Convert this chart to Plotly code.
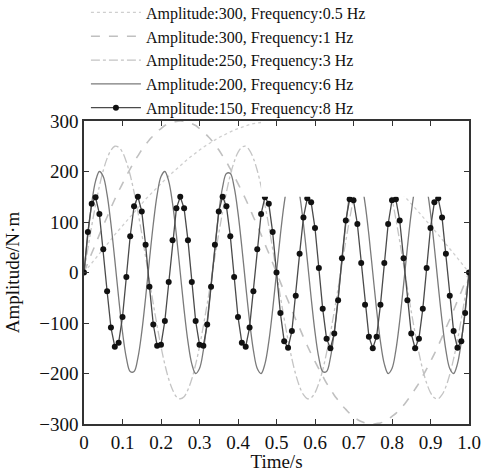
import plotly.graph_objects as go

# time samples (s)
time_s = [0.00, 0.01, 0.02, 0.03, 0.04, 0.05, 0.06, 0.07, 0.08, 0.09,
          0.10, 0.11, 0.12, 0.13, 0.14, 0.15, 0.16, 0.17, 0.18, 0.19,
          0.20, 0.21, 0.22, 0.23, 0.24, 0.25, 0.26, 0.27, 0.28, 0.29,
          0.30, 0.31, 0.32, 0.33, 0.34, 0.35, 0.36, 0.37, 0.38, 0.39,
          0.40, 0.41, 0.42, 0.43, 0.44, 0.45, 0.46, 0.47, 0.48, 0.49,
          0.50, 0.51, 0.52, 0.53, 0.54, 0.55, 0.56, 0.57, 0.58, 0.59,
          0.60, 0.61, 0.62, 0.63, 0.64, 0.65, 0.66, 0.67, 0.68, 0.69,
          0.70, 0.71, 0.72, 0.73, 0.74, 0.75, 0.76, 0.77, 0.78, 0.79,
          0.80, 0.81, 0.82, 0.83, 0.84, 0.85, 0.86, 0.87, 0.88, 0.89,
          0.90, 0.91, 0.92, 0.93, 0.94, 0.95, 0.96, 0.97, 0.98, 0.99, 1.00]

amp300_f05 = [0, 9, 19, 28, 38, 47, 56, 65, 75, 84,
              93, 102, 110, 119, 128, 136, 145, 153, 161, 169,
              176, 184, 191, 198, 205, 212, 219, 225, 231, 237,
              243, 248, 253, 258, 263, 267, 271, 275, 279, 282,
              285, 288, 291, 293, 295, 296, 298, 299, 299, 300,
              300, 300, 299, 299, 298, 296, 295, 293, 291, 288,
              285, 282, 279, 275, 271, 267, 263, 258, 253, 248,
              243, 237, 231, 225, 219, 212, 205, 198, 191, 184,
              176, 169, 161, 153, 145, 136, 128, 119, 110, 102,
              93, 84, 75, 65, 56, 47, 38, 28, 19, 9, 0]

amp300_f1 = [0, 19, 38, 56, 75, 93, 110, 128, 145, 161,
             176, 191, 205, 219, 231, 243, 253, 263, 271, 279,
             285, 291, 295, 298, 299, 300, 299, 298, 295, 291,
             285, 279, 271, 263, 253, 243, 231, 219, 205, 191,
             176, 161, 145, 128, 110, 93, 75, 56, 38, 19,
             0, -19, -38, -56, -75, -93, -110, -128, -145, -161,
             -176, -191, -205, -219, -231, -243, -253, -263, -271, -279,
             -285, -291, -295, -298, -299, -300, -299, -298, -295, -291,
             -285, -279, -271, -263, -253, -243, -231, -219, -205, -191,
             -176, -161, -145, -128, -110, -93, -75, -56, -38, -19, 0]

amp250_f3 = [0, 47, 92, 134, 171, 202, 226, 242, 250, 248,
             238, 219, 193, 159, 120, 77, 31, -16, -62, -106,
             -147, -182, -211, -232, -246, -250, -246, -232, -211, -182,
             -147, -106, -62, -16, 31, 77, 120, 159, 193, 219,
             238, 248, 250, 242, 226, 202, 171, 134, 92, 47,
             0, -47, -92, -134, -171, -202, -226, -242, -250, -248,
             -238, -219, -193, -159, -120, -77, -31, 16, 62, 106,
             147, 182, 211, 232, 246, 250, 246, 232, 211, 182,
             147, 106, 62, 16, -31, -77, -120, -159, -193, -219,
             -238, -248, -250, -242, -226, -202, -171, -134, -92, -47, 0]

amp200_f6 = [0, 74, 137, 181, 200, 190, 154, 96, 25, -50,
             -118, -169, -196, -196, -169, -118, -50, 25, 96, 154,
             190, 200, 181, 137, 74, 0, -74, -137, -181, -200,
             -190, -154, -96, -25, 50, 118, 169, 196, 196, 169,
             118, 50, -25, -96, -154, -190, -200, -181, -137, -74,
             0, 74, 137, 181, 200, 190, 154, 96, 25, -50,
             -118, -169, -196, -196, -169, -118, -50, 25, 96, 154,
             190, 200, 181, 137, 74, 0, -74, -137, -181, -200,
             -190, -154, -96, -25, 50, 118, 169, 196, 196, 169,
             118, 50, -25, -96, -154, -190, -200, -181, -137, -74, 0]

amp150_f8 = [0, 80, 136, 149, 116, 46, -37, -109, -147, -139,
             -88, -9, 72, 131, 150, 121, 55, -28, -103, -145,
             -143, -96, -19, 64, 127, 150, 127, 64, -19, -96,
             -143, -145, -103, -28, 55, 121, 150, 131, 72, -9,
             -88, -139, -147, -109, -37, 46, 116, 149, 136, 80,
             0, -80, -136, -149, -116, -46, 37, 109, 147, 139,
             88, 9, -72, -131, -150, -121, -55, 28, 103, 145,
             143, 96, 19, -64, -127, -150, -127, -64, 19, 96,
             143, 145, 103, 28, -55, -121, -150, -131, -72, 9,
             88, 139, 147, 109, 37, -46, -116, -149, -136, -80, 0]

series_names = ["Amplitude:300, Frequency:0.5 Hz",
                "Amplitude:300, Frequency:1 Hz",
                "Amplitude:250, Frequency:3 Hz",
                "Amplitude:200, Frequency:6 Hz",
                "Amplitude:150, Frequency:8 Hz"]

x_tick_vals = [0, 0.1, 0.2, 0.3, 0.4, 0.5, 0.6, 0.7, 0.8, 0.9, 1.0]
x_tick_text = ["0", "0.1", "0.2", "0.3", "0.4", "0.5", "0.6", "0.7", "0.8", "0.9", "1.0"]
y_tick_vals = [-300, -200, -100, 0, 100, 200, 300]

# region of the plot hidden behind the (white) legend box in the original
mask_x = [0.46, 1.0, 1.0, 0.46, 0.46]
mask_y = [150, 150, 300, 300, 150]

FONT = "Liberation Serif, Times New Roman, serif"

fig = go.Figure()
fig.add_trace(go.Scatter(x=time_s, y=amp300_f05, name=series_names[0], mode="lines",
                         line=dict(color="#cfcfcf", width=1.3, dash="dot")))
fig.add_trace(go.Scatter(x=time_s, y=amp300_f1, name=series_names[1], mode="lines",
                         line=dict(color="#c0c0c0", width=1.6, dash="dash", shape="spline")))
fig.add_trace(go.Scatter(x=time_s, y=amp250_f3, name=series_names[2], mode="lines",
                         line=dict(color="#c4c4c4", width=1.3, dash="dashdot", shape="spline")))
fig.add_trace(go.Scatter(x=time_s, y=amp200_f6, name=series_names[3], mode="lines",
                         line=dict(color="#7a7a7a", width=1.3, shape="spline")))
fig.add_trace(go.Scatter(x=time_s, y=amp150_f8, name=series_names[4], mode="lines+markers",
                         line=dict(color="#4a4a4a", width=1.3),
                         marker=dict(color="#111111", size=6)))
fig.add_trace(go.Scatter(x=mask_x, y=mask_y, mode="none", fill="toself",
                         fillcolor="rgba(255,255,255,1)",
                         showlegend=False, hoverinfo="skip"))

axis_common = dict(showline=True, linecolor="#333333", linewidth=1.5, mirror="ticks",
                   ticks="inside", ticklen=5, tickwidth=1.2, tickcolor="#333333",
                   showgrid=False, zeroline=False,
                   tickfont=dict(family=FONT, size=19, color="#111111"))

fig.update_layout(
    width=484, height=472,
    margin=dict(l=84, r=15, t=121, b=48, autoexpand=False),
    paper_bgcolor="white", plot_bgcolor="white",
    font=dict(family=FONT, color="#111111"),
    showlegend=True,
    legend=dict(xref="paper", yref="paper", x=0.005, y=1.414,
                xanchor="left", yanchor="top", bgcolor="rgba(255,255,255,0)",
                font=dict(family=FONT, size=16, color="#111111"),
                itemwidth=50, tracegroupgap=0),
    xaxis=dict(range=[0, 1], tickvals=x_tick_vals, ticktext=x_tick_text,
               title=dict(text="Time/s", font=dict(family=FONT, size=19)),
               **axis_common),
    yaxis=dict(range=[-300, 300], tickvals=y_tick_vals,
               title=dict(text="Amplitude/N·m", font=dict(family=FONT, size=19)),
               **axis_common),
)

fig.write_html("out.html", config={"displayModeBar": False},
               post_script="document.body.style.margin='0';document.body.style.overflow='hidden';")
